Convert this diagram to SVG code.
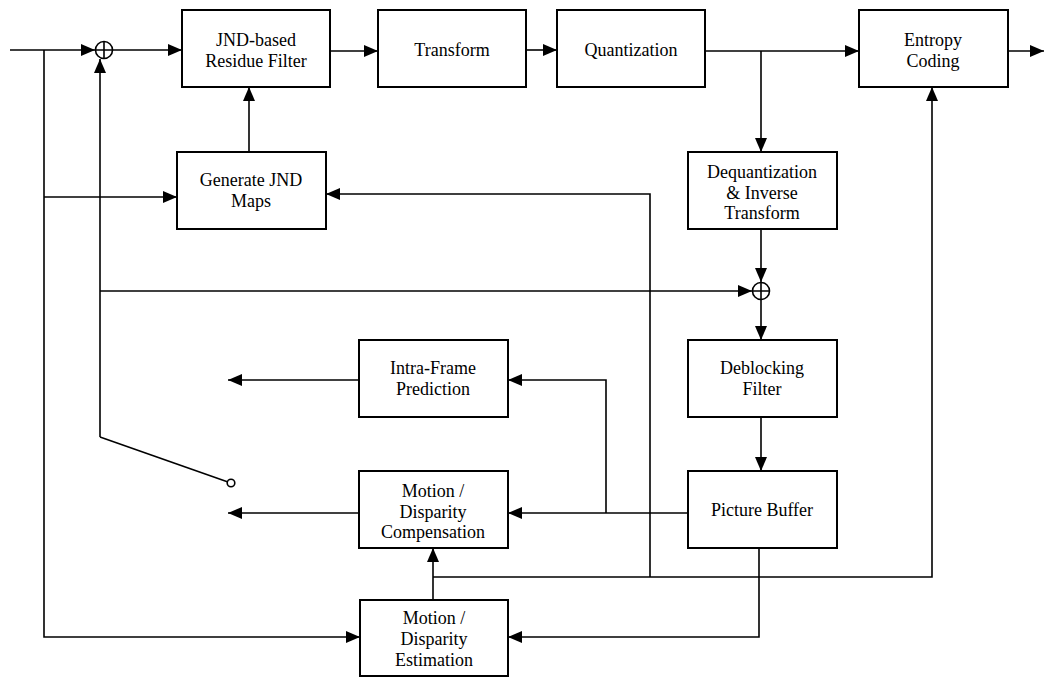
<svg xmlns="http://www.w3.org/2000/svg" width="1044" height="677" viewBox="0 0 1044 677">
  <style>
    .box { fill: #fff; stroke: #000; stroke-width: 2; }
    .wire { fill: none; stroke: #000; stroke-width: 1.6; }
    .arr { marker-end: url(#tip); }
    .sum { fill: #fff; stroke: #000; stroke-width: 1.6; }
    text { font-family: "Liberation Serif", "Times New Roman", serif; font-size: 18px; fill: #000; text-anchor: middle; }
  </style>
  <defs>
    <marker id="tip" markerUnits="userSpaceOnUse" markerWidth="14" markerHeight="12" viewBox="0 0 14 12" refX="14" refY="6" orient="auto">
      <path d="M0 0 L14 6 L0 12 Z" fill="#000"/>
    </marker>
  </defs>
  <rect width="1044" height="677" fill="#fff"/>

  <!-- connectors -->
  <g id="connectors">
    <path class="wire arr" d="M10 50 H95"/>
    <path class="wire arr" d="M44 50 V637 H360"/>
    <path class="wire arr" d="M44 197 H177"/>
    <path class="wire arr" d="M113 50 H182"/>
    <path class="wire arr" d="M330 51 H378"/>
    <path class="wire arr" d="M526 50 H557"/>
    <path class="wire arr" d="M705 51 H859"/>
    <path class="wire arr" d="M761 51 V152"/>
    <path class="wire arr" d="M1008 51 H1044"/>
    <path class="wire arr" d="M249 152 V87"/>
    <path class="wire arr" d="M650 577 V194 H326"/>
    <path class="wire arr" d="M433 600 V548"/>
    <path class="wire arr" d="M433 577 H932 V87"/>
    <path class="wire arr" d="M759 548 V637 H508"/>
    <path class="wire arr" d="M761 229 V282"/>
    <path class="wire arr" d="M761 300 V340"/>
    <path class="wire arr" d="M100 291 H752"/>
    <path class="wire arr" d="M100 437 V59"/>
    <path class="wire" d="M100 437 L228 482"/>
    <path class="wire arr" d="M761 417 V471"/>
    <path class="wire arr" d="M688 513 H508"/>
    <path class="wire arr" d="M606 513 V380 H508"/>
    <path class="wire arr" d="M359 380 H228"/>
    <path class="wire arr" d="M359 513 H228"/>
    <!-- selector contact -->
    <circle cx="231" cy="483" r="3.8" class="sum"/>
  </g>

  <!-- summing junctions -->
  <g id="sum-input">
    <circle cx="104" cy="50" r="8.5" class="sum"/>
    <path class="wire" d="M95.5 50 H112.5 M104 41.5 V58.5"/>
  </g>
  <g id="sum-recon">
    <circle cx="761" cy="291" r="8.5" class="sum"/>
    <path class="wire" d="M752.5 291 H769.5 M761 282.5 V299.5"/>
  </g>

  <!-- blocks -->
  <g id="jnd-filter">
    <rect class="box" x="182" y="10" width="148" height="77"/>
    <text x="256" y="46">JND-based</text>
    <text x="256" y="67">Residue Filter</text>
  </g>
  <g id="transform">
    <rect class="box" x="378" y="10" width="148" height="77"/>
    <text x="452" y="56">Transform</text>
  </g>
  <g id="quantization">
    <rect class="box" x="557" y="10" width="148" height="77"/>
    <text x="631" y="56">Quantization</text>
  </g>
  <g id="entropy">
    <rect class="box" x="859" y="10" width="149" height="77"/>
    <text x="933" y="46">Entropy</text>
    <text x="933" y="67">Coding</text>
  </g>
  <g id="jnd-maps">
    <rect class="box" x="177" y="152" width="149" height="77"/>
    <text x="251" y="186">Generate JND</text>
    <text x="251" y="207">Maps</text>
  </g>
  <g id="dequant">
    <rect class="box" x="688" y="152" width="149" height="77"/>
    <text x="762" y="178">Dequantization</text>
    <text x="762" y="199">&amp; Inverse</text>
    <text x="762" y="219">Transform</text>
  </g>
  <g id="deblocking">
    <rect class="box" x="688" y="340" width="149" height="77"/>
    <text x="762" y="374">Deblocking</text>
    <text x="762" y="395">Filter</text>
  </g>
  <g id="intra">
    <rect class="box" x="359" y="340" width="149" height="77"/>
    <text x="433" y="374">Intra-Frame</text>
    <text x="433" y="395">Prediction</text>
  </g>
  <g id="compensation">
    <rect class="box" x="359" y="471" width="149" height="77"/>
    <text x="433" y="497">Motion /</text>
    <text x="433" y="518">Disparity</text>
    <text x="433" y="538">Compensation</text>
  </g>
  <g id="picture-buffer">
    <rect class="box" x="688" y="471" width="149" height="77"/>
    <text x="762" y="516">Picture Buffer</text>
  </g>
  <g id="estimation">
    <rect class="box" x="360" y="600" width="148" height="76"/>
    <text x="434" y="624">Motion /</text>
    <text x="434" y="645">Disparity</text>
    <text x="434" y="666">Estimation</text>
  </g>
</svg>
